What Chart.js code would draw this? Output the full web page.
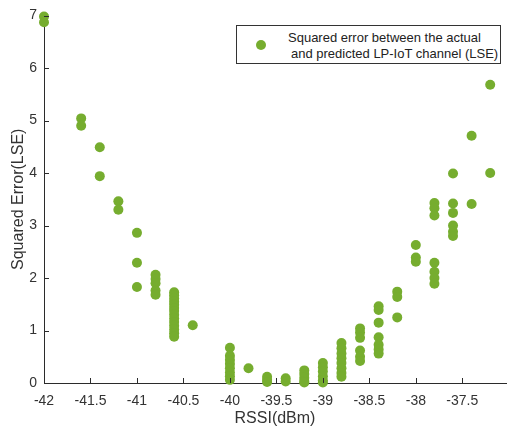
<!DOCTYPE html>
<html>
<head>
<meta charset="utf-8">
<script src="https://cdn.jsdelivr.net/npm/chart.js@4/dist/chart.umd.min.js"></script>
<style>
body { margin: 0; background: #fff; }
#wrap { position: relative; width: 511px; height: 433px; }
#legend {
    position: absolute; left: 236px; top: 25px; width: 263px; height: 37px;
    border: 1px solid #333; background: #fff;
    font-family: "Liberation Sans", Arial, sans-serif; font-size: 13px; color: #222;
}
#legend .dot { position: absolute; left: 19px; top: 14px; width: 10px; height: 10px; border-radius: 50%; }
#legend .l1 { position: absolute; left: 51px; top: 4px; white-space: nowrap; }
#legend .l2 { position: absolute; left: 54px; top: 20px; white-space: nowrap; }
</style>
</head>
<body>
<div id="wrap">
<canvas id="chart" width="511" height="433"></canvas>
<div id="legend"><div class="dot"></div><div class="l1">Squared error between the actual</div><div class="l2">and predicted LP-IoT channel (LSE)</div></div>
</div>
<script>
var pointColor = '#76ad2f'
var seriesLabel = 'Squared error between the actual and predicted LP-IoT channel (LSE)'
var xTicks = [-42, -41.5, -41, -40.5, -40, -39.5, -39, -38.5, -38, -37.5]
var yTicks = [0, 1, 2, 3, 4, 5, 6, 7]

// RSSI (dBm) and the squared error at each measurement
var rssi = [
    -42, -42,
    -41.6, -41.6,
    -41.4, -41.4,
    -41.2, -41.2,
    -41, -41, -41,
    -40.8, -40.8, -40.8, -40.8, -40.8,
    -40.6, -40.6, -40.6, -40.6, -40.6, -40.6, -40.6, -40.6, -40.6, -40.6, -40.6, -40.6, -40.6, -40.6,
    -40.4,
    -40, -40, -40, -40, -40, -40, -40, -40,
    -39.8,
    -39.6, -39.6, -39.6,
    -39.4, -39.4,
    -39.2, -39.2, -39.2, -39.2, -39.2,
    -39, -39, -39, -39, -39, -39,
    -38.8, -38.8, -38.8, -38.8, -38.8, -38.8, -38.8, -38.8,
    -38.6, -38.6, -38.6, -38.6, -38.6, -38.6,
    -38.4, -38.4, -38.4, -38.4, -38.4, -38.4, -38.4,
    -38.2, -38.2, -38.2,
    -38, -38, -38,
    -37.8, -37.8, -37.8, -37.8, -37.8, -37.8, -37.8,
    -37.6, -37.6, -37.6, -37.6, -37.6, -37.6,
    -37.4, -37.4,
    -37.2, -37.2
]
var lse = [
    6.98, 6.87,
    5.04, 4.90,
    4.49, 3.94,
    3.46, 3.30,
    2.86, 2.29, 1.83,
    2.06, 1.98, 1.90, 1.76, 1.68,
    1.73, 1.67, 1.61, 1.55, 1.49, 1.43, 1.37, 1.30, 1.23, 1.16, 1.09, 1.02, 0.95, 0.88,
    1.10,
    0.67, 0.52, 0.44, 0.36, 0.28, 0.20, 0.13, 0.06,
    0.28,
    0.12, 0.06, 0.02,
    0.09, 0.03,
    0.24, 0.17, 0.10, 0.04, 0.01,
    0.38, 0.30, 0.22, 0.13, 0.05, 0.01,
    0.76, 0.66, 0.56, 0.47, 0.38, 0.28, 0.19, 0.12,
    1.04, 0.96, 0.86, 0.62, 0.50, 0.42,
    1.46, 1.39, 1.15, 0.87, 0.73, 0.64, 0.56,
    1.74, 1.64, 1.25,
    2.63, 2.39, 2.31,
    3.43, 3.33, 3.19, 2.29, 2.12, 2.00, 1.89,
    3.99, 3.42, 3.24, 3.00, 2.88, 2.80,
    4.71, 3.41,
    5.68, 4.00
]

document.querySelector('#legend .dot').style.background = pointColor

var points = []
for (var i = 0; i < rssi.length; i++) {
    points.push({x: rssi[i], y: lse[i]})
}

var axisColor = '#2b2b2b'
var tickFont = {family: '"Liberation Sans", Arial, sans-serif', size: 14}
var titleFont = {family: '"Liberation Sans", Arial, sans-serif', size: 16}

// matlab style ticks pointing into the plot
var innerTicks = {
    id: 'innerTicks',
    afterDraw: function(chart) {
        var ctx = chart.ctx
        var xs = chart.scales.x, ys = chart.scales.y
        ctx.save()
        ctx.strokeStyle = axisColor
        ctx.lineWidth = 1
        ctx.beginPath()
        xs.ticks.forEach(function(t) {
            var px = Math.round(xs.getPixelForValue(t.value)) + 0.5
            ctx.moveTo(px, ys.bottom)
            ctx.lineTo(px, ys.bottom - 5)
        })
        ys.ticks.forEach(function(t) {
            var py = Math.round(ys.getPixelForValue(t.value)) + 0.5
            ctx.moveTo(xs.left, py)
            ctx.lineTo(xs.left + 5, py)
        })
        ctx.stroke()
        ctx.restore()
    }
}

var chart = new Chart(document.getElementById('chart').getContext('2d'), {
    type: 'scatter',
    data: {
        datasets: [{
            label: seriesLabel,
            data: points,
            backgroundColor: pointColor,
            borderWidth: 0,
            pointRadius: 5,
            pointHoverRadius: 5,
            clip: false
        }]
    },
    options: {
        responsive: false,
        animation: false,
        layout: {padding: {top: 15.5, right: 0, left: 0, bottom: 0}},
        plugins: {
            legend: {display: false},
            tooltip: {enabled: false}
        },
        scales: {
            x: {
                type: 'linear',
                min: -42,
                max: -37.03,
                afterBuildTicks: function(s) { s.ticks = xTicks.map(function(v) { return {value: v} }) },
                afterFit: function(s) { s.height = 50 },
                grid: {display: false, drawTicks: false},
                border: {display: true, color: axisColor, width: 1},
                ticks: {color: '#333', font: tickFont, padding: 10, maxRotation: 0,
                    callback: function(v) { return String(v) }},
                title: {display: true, text: 'RSSI(dBm)', color: '#333', font: titleFont, padding: {top: 0, bottom: 5}}
            },
            y: {
                min: 0,
                max: 7,
                afterBuildTicks: function(s) { s.ticks = yTicks.map(function(v) { return {value: v} }) },
                afterFit: function(s) { s.width = 44 },
                grid: {display: false, drawTicks: false},
                border: {display: true, color: axisColor, width: 1},
                ticks: {color: '#333', font: tickFont, padding: 7},
                title: {display: true, text: 'Squared Error(LSE)', color: '#333', font: titleFont, padding: {top: 9, bottom: 0}}
            }
        }
    },
    plugins: [innerTicks]
})
</script>
</body>
</html>
